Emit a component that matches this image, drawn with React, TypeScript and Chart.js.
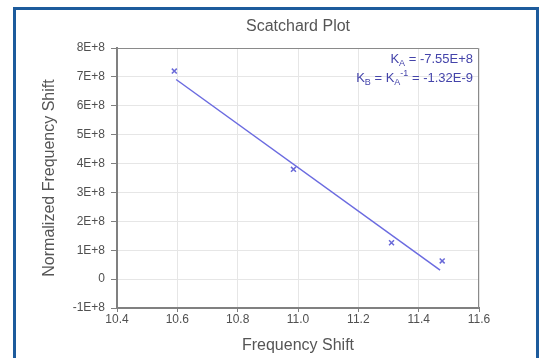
import React, { useEffect, useRef } from "react";
import { Chart, registerables } from "chart.js";

Chart.register(...registerables);

// ---- data ----
const freqShift = [10.59, 10.985, 11.31, 11.478];
const normShift = [7.2e8, 3.8e8, 1.26e8, 0.63e8];
const fitFreq = [10.596, 11.471];
const fitNorm = [6.91e8, 0.31e8];
const xMin = 10.4;
const xMax = 11.6;
const xStep = 0.2;
const yMin = -1e8;
const yMax = 8e8;
const yStep = 1e8;
const titleText = "Scatchard Plot";
const xTitle = "Frequency Shift";
const yTitle = "Normalized Frequency Shift";
const kaValue = "-7.55E+8";
const kbValue = "-1.32E-9";

const FONT = '"Liberation Sans", Arial, Helvetica, sans-serif';

type Run = { text: string; size: number; dy: number };

function drawRuns(ctx: CanvasRenderingContext2D, runs: Run[], rightX: number, baseline: number) {
  let total = 0;
  for (const r of runs) {
    ctx.font = `${r.size}px ${FONT}`;
    total += ctx.measureText(r.text).width;
  }
  let x = rightX - total;
  for (const r of runs) {
    ctx.font = `${r.size}px ${FONT}`;
    ctx.fillText(r.text, x, baseline + r.dy);
    x += ctx.measureText(r.text).width;
  }
}

const decorPlugin = {
  id: "decor",
  afterDraw(chart: any) {
    const { ctx, chartArea: a } = chart;
    ctx.save();
    // plot frame (top & right)
    ctx.strokeStyle = "#8a8a8a";
    ctx.lineWidth = 1;
    ctx.beginPath();
    ctx.moveTo(a.left, a.top + 0.5);
    ctx.lineTo(a.right - 0.5, a.top + 0.5);
    ctx.lineTo(a.right - 0.5, a.bottom);
    ctx.stroke();
    // title
    ctx.fillStyle = "#555555";
    ctx.font = `16px ${FONT}`;
    ctx.textAlign = "center";
    ctx.textBaseline = "middle";
    ctx.fillText(titleText, (a.left + a.right) / 2, a.top - 21);
    // annotation
    ctx.textAlign = "left";
    ctx.textBaseline = "alphabetic";
    ctx.fillStyle = "#4444aa";
    const rx = a.right - 6;
    drawRuns(
      ctx,
      [
        { text: "K", size: 13, dy: 0 },
        { text: "A", size: 9, dy: 3 },
        { text: " = " + kaValue, size: 13, dy: 0 },
      ],
      rx,
      a.top + 15
    );
    drawRuns(
      ctx,
      [
        { text: "K", size: 13, dy: 0 },
        { text: "B", size: 9, dy: 3 },
        { text: " = K", size: 13, dy: 0 },
        { text: "A", size: 9, dy: 3 },
        { text: "-1", size: 9, dy: -6 },
        { text: " = " + kbValue, size: 13, dy: 0 },
      ],
      rx,
      a.top + 34
    );
    ctx.restore();
  },
};

export default function App() {
  const ref = useRef<HTMLCanvasElement | null>(null);

  useEffect(() => {
    if (!ref.current) return;
    const points = freqShift.map((x, i) => ({ x, y: normShift[i] }));
    const fit = fitFreq.map((x, i) => ({ x, y: fitNorm[i] }));
    const chart = new Chart(ref.current, {
      type: "scatter",
      data: {
        datasets: [
          {
            label: "fit",
            data: fit,
            showLine: true,
            borderColor: "#6b6be0",
            borderWidth: 1.5,
            pointRadius: 0,
          },
          {
            label: "data",
            data: points,
            showLine: false,
            pointStyle: "crossRot",
            pointRadius: 3.5,
            borderColor: "#6a6ad8",
            backgroundColor: "#6a6ad8",
            borderWidth: 1.5,
          },
        ],
      },
      options: {
        responsive: false,
        devicePixelRatio: 1,
        animation: false,
        events: [],
        layout: { padding: { left: 40.4, right: 62, top: 48, bottom: 2.4 } },
        plugins: {
          legend: { display: false },
          tooltip: { enabled: false },
          title: { display: false },
        },
        scales: {
          x: {
            type: "linear",
            position: "bottom",
            min: xMin,
            max: xMax,
            ticks: {
              stepSize: xStep,
              callback: (v: any) => Number(v).toFixed(1),
              font: { family: FONT, size: 12 },
              color: "#505050",
              padding: 0,
              maxRotation: 0,
            },
            grid: { color: "#e6e6e6", tickColor: "#808080", tickLength: 4 },
            border: { color: "#808080", width: 2 },
            title: {
              display: true,
              text: xTitle,
              font: { family: FONT, size: 16 },
              color: "#555555",
              padding: 0,
            },
            afterFit: (s: any) => {
              s.height = 47.6;
            },
          },
          y: {
            type: "linear",
            min: yMin,
            max: yMax,
            ticks: {
              stepSize: yStep,
              callback: (v: any) => {
                const n = Math.round(Number(v) / 1e8);
                return n === 0 ? "0" : `${n}E+8`;
              },
              font: { family: FONT, size: 12 },
              color: "#505050",
              padding: 6,
            },
            grid: { color: "#e6e6e6", tickColor: "#808080", tickLength: 6 },
            border: { color: "#808080", width: 2 },
            title: {
              display: true,
              text: yTitle,
              font: { family: FONT, size: 16 },
              color: "#555555",
              padding: 0,
            },
            afterFit: (s: any) => {
              s.width = 76.6;
            },
          },
        },
      },
      plugins: [decorPlugin],
    });
    return () => chart.destroy();
  }, []);

  return (
    <div
      style={{
        position: "absolute",
        left: 0,
        top: 0,
        width: 541,
        height: 358,
        overflow: "hidden",
        background: "#ffffff",
      }}
    >
      <div
        style={{
          position: "absolute",
          left: 13,
          top: 7,
          width: 526,
          height: 420,
          border: "3px solid #1d5b9c",
          boxSizing: "border-box",
        }}
      />
      <canvas
        ref={ref}
        width={541}
        height={358}
        style={{ position: "absolute", left: 0, top: 0, width: 541, height: 358 }}
      />
    </div>
  );
}
